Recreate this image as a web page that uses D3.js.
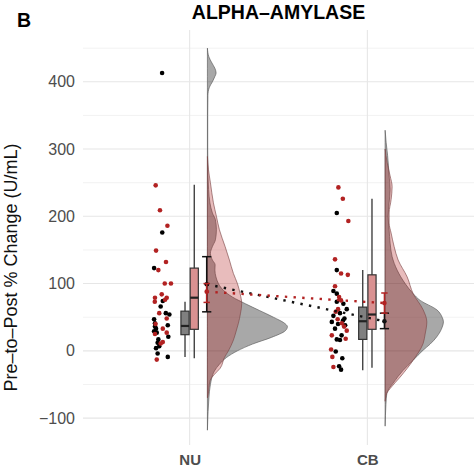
<!DOCTYPE html>
<html><head><meta charset="utf-8">
<script src="https://cdn.jsdelivr.net/npm/d3@7"></script>
<style>body{margin:0;background:#fff}svg{display:block}</style>
</head><body>
<script>
// ---------------- DATA ----------------
const categories = ["NU", "CB"];
const groups = ["black", "red"];
const yTicks = [-100, 0, 100, 200, 300, 400];
const yMinor = [-50, 50, 150, 250, 350, 450];

// raw points: value and horizontal jitter (category units)
const nuBlackVals = [413,176,123,74,66,56,54,47,38,41,36,33,29,27,21,17,12,7,4,-4,-9];
const nuBlackJit  = [-0.155,-0.154,-0.200,-0.151,-0.163,-0.134,-0.114,-0.200,-0.123,-0.195,-0.195,-0.189,-0.200,-0.185,-0.120,-0.176,-0.180,-0.171,-0.189,-0.180,-0.123];
const nuRedVals = [246,209,186,149,132,120,100,100,84,79,79,73,76,56,48,33,25,27,13,11,-13,40];
const nuRedJit  = [-0.191,-0.167,-0.125,-0.189,-0.133,-0.176,-0.140,-0.105,-0.157,-0.195,-0.129,-0.196,-0.138,-0.171,-0.129,-0.151,-0.195,-0.129,-0.151,-0.163,-0.185,-0.192];
const cbBlackVals = [205,120,89,85,73,70,62,56,52,48,43,38,40,33,23,17,16,-1,-11,-23,-28,45];
const cbBlackJit  = [-0.172,-0.172,-0.191,-0.172,-0.172,-0.135,-0.116,-0.154,-0.191,-0.129,-0.200,-0.125,-0.165,-0.182,-0.145,-0.172,-0.154,-0.178,-0.141,-0.159,-0.148,-0.137];
const cbRedVals = [243,226,193,136,115,113,96,80,75,58,47,41,30,23,18,2,-9,-24,62,36];
const cbRedJit  = [-0.163,-0.138,-0.107,-0.182,-0.148,-0.110,-0.182,-0.159,-0.148,-0.178,-0.167,-0.144,-0.116,-0.200,-0.122,-0.204,-0.197,-0.191,-0.165,-0.131];

// box statistics [low whisker, q1, median, q3, high whisker]
const nuBlackBox = [-9, 24, 37, 59, 73];
const nuRedBox   = [-11, 32, 79, 123, 247];
const cbBlackBox = [-29, 17, 44, 65, 120];
const cbRedBox   = [-25, 32, 54, 113, 226];

// mean and interval [low, mean, high]
const nuBlackMean = [58, 99, 140];
const nuRedMean   = [72, 88, 100];
const cbBlackMean = [33, 44, 56];
const cbRedMean   = [56, 71, 86];

// half-density profiles: value and relative density
const nuBlackDensV = [-118,-100,-90,-70,-50,-30,-20,-10,0,10,20,30,36,40,50,60,70,80,90,100,110,120,128,135,145,155,165,180,195,205,220,240,260,300,350,380,392,400,408,413,420,428,437,450];
const nuBlackDensD = [0,0.4,0.7,1.5,3,7,12,19,30,45,64,78,80,78,66,52,38,25,16,11,8.5,7.5,7.7,5,3,5,8,9,8,5,2.5,1.2,0.6,0.3,0.3,0.5,2,5,7.5,8.7,7.5,4.5,1.5,0];
const nuRedDensV = [-70,-63,-55,-44,-35,-26,-10,0,16,28,41,55,70,85,100,115,135,155,180,200,220,250,270,289];
const nuRedDensD = [0,1,1.5,2.7,7,12.7,17,21,26,28.5,31,33,34.3,32.7,30,26,22,17.7,12,9,6,3,1,0];
const cbBlackDensV = [-112,-80,-63,-48,-29,-14,1,10,21,35,43,50,61,75,85,100,120,140,160,180,200,220,240,260,290,310,328];
const cbBlackDensD = [0,0.8,1.7,8,18,28,38,45,51.7,57,58.3,57,51.7,35,28,20,12,7,5,4,3,4,5,4,2.5,1,0];
const cbRedDensV = [-75,-63,-56,-39,-14,11,25,43,61,85,110,135,155,175,190,205,225,244,260,280,300];
const cbRedDensD = [0,1.7,5,15,28,38,40,41.7,38,28,22,13,9,6,4,4,6,7,5,2,0];

// ---------------- LAYOUT ----------------
const W = 474, H = 474;
const svg = d3.select("body").append("svg").attr("width", W).attr("height", H)
  .style("font-family", "'Liberation Sans', Arial, Helvetica, sans-serif");

const x = d3.scaleLinear().domain([0.4, 2.6]).range([83, 474]);
const y = d3.scaleLinear().domain([-140, 477]).range([445, 30]);
const dens = d3.scaleLinear().domain([0, 100]).range([0, 100 / 177.7]); // density -> category units

const col = {black: "#000000", red: "#b22222"};
const catPos = c => categories.indexOf(c) + 1;

// grid
const g = svg.append("g");
g.selectAll(".minor").data(yMinor).join("line")
  .attr("x1", x(0.4)).attr("x2", x(2.6))
  .attr("y1", d => y(d)).attr("y2", d => y(d))
  .attr("stroke", "#f0f0f0").attr("stroke-width", 0.9);
g.selectAll(".major").data(yTicks).join("line")
  .attr("x1", x(0.4)).attr("x2", x(2.6))
  .attr("y1", d => y(d)).attr("y2", d => y(d))
  .attr("stroke", "#e6e6e6").attr("stroke-width", 1.1);
g.selectAll(".vx").data(categories).join("line")
  .attr("x1", d => x(catPos(d))).attr("x2", d => x(catPos(d)))
  .attr("y1", y(477)).attr("y2", y(-140))
  .attr("stroke", "#e6e6e6").attr("stroke-width", 1.1);

// y axis labels
const yAxis = d3.axisLeft(y).tickValues(yTicks).tickSize(0).tickPadding(8)
  .tickFormat(d => d < 0 ? "\u2212" + Math.abs(d) : d);
const ya = svg.append("g").attr("transform", `translate(${x(0.4)},0)`).call(yAxis);
ya.select(".domain").remove();
ya.selectAll("text").attr("fill", "#4d4d4d").style("font-size", "16px")
  .style("font-family", "'Liberation Sans', Arial, sans-serif");

// x axis labels
const xBand = d3.scalePoint().domain(categories).range([x(1), x(2)]);
const xa = svg.append("g").attr("transform", `translate(0,${y(-140)})`)
  .call(d3.axisBottom(xBand).tickSize(0).tickPadding(9));
xa.select(".domain").remove();
xa.selectAll("text").attr("fill", "#4d4d4d").style("font-size", "15px").style("font-weight", "bold")
  .style("font-family", "'Liberation Sans', Arial, sans-serif");

// densities
const series = [
  {cat: "NU", grp: "black", v: nuBlackDensV, d: nuBlackDensD},
  {cat: "CB", grp: "black", v: cbBlackDensV, d: cbBlackDensD},
  {cat: "NU", grp: "red", v: nuRedDensV, d: nuRedDensD},
  {cat: "CB", grp: "red", v: cbRedDensV, d: cbRedDensD},
];
const densOffset = 0.1;
series.forEach(s => {
  const pts = s.v.map((v, i) => [v, s.d[i]]);
  const base = catPos(s.cat) + densOffset;
  const area = d3.area().curve(d3.curveMonotoneY)
    .y(p => y(p[0])).x0(x(base)).x1(p => x(base + dens(p[1])));
  svg.append("path").attr("d", area(pts))
    .attr("fill", s.grp === "black" ? "#000" : "#b22222")
    .attr("fill-opacity", s.grp === "black" ? 0.34 : 0.3)
    .attr("stroke", s.grp === "black" ? "#555" : "#7a4545")
    .attr("stroke-opacity", 0.7).attr("stroke-width", 0.9);
});

// jittered points
const pointSets = [
  {cat: "NU", grp: "black", v: nuBlackVals, j: nuBlackJit},
  {cat: "NU", grp: "red", v: nuRedVals, j: nuRedJit},
  {cat: "CB", grp: "black", v: cbBlackVals, j: cbBlackJit},
  {cat: "CB", grp: "red", v: cbRedVals, j: cbRedJit},
];
pointSets.forEach(s => {
  svg.append("g").selectAll("circle").data(s.v.map((v, i) => [v, s.j[i]])).join("circle")
    .attr("cx", d => x(catPos(s.cat) + d[1])).attr("cy", d => y(d[0]))
    .attr("r", 2.3).attr("fill", col[s.grp]);
});

// boxplots
const boxes = [
  {cat: "NU", grp: "black", b: nuBlackBox},
  {cat: "NU", grp: "red", b: nuRedBox},
  {cat: "CB", grp: "black", b: cbBlackBox},
  {cat: "CB", grp: "red", b: cbRedBox},
];
const dodge = 0.026, bw = 0.046;
boxes.forEach(s => {
  const cx = catPos(s.cat) + (s.grp === "black" ? -dodge : dodge);
  const bg = svg.append("g");
  bg.append("line").attr("x1", x(cx)).attr("x2", x(cx))
    .attr("y1", y(s.b[0])).attr("y2", y(s.b[4]))
    .attr("stroke", "#333").attr("stroke-width", 1.3);
  bg.append("rect").attr("x", x(cx - bw / 2)).attr("width", x(cx + bw / 2) - x(cx - bw / 2))
    .attr("y", y(s.b[3])).attr("height", y(s.b[1]) - y(s.b[3]))
    .attr("fill", s.grp === "black" ? "#808080" : "#d99191")
    .attr("stroke", "#333").attr("stroke-width", 1.2);
  bg.append("line").attr("x1", x(cx - bw / 2)).attr("x2", x(cx + bw / 2))
    .attr("y1", y(s.b[2])).attr("y2", y(s.b[2]))
    .attr("stroke", "#222").attr("stroke-width", 2.2);
});

// dotted connecting lines between means
const errOff = 0.096;
const means = {black: [nuBlackMean, cbBlackMean], red: [nuRedMean, cbRedMean]};
groups.forEach(gp => {
  const line = d3.line().x(d => x(d[0])).y(d => y(d[1]));
  svg.append("path")
    .attr("d", line(categories.map((c, i) => [catPos(c) + errOff, means[gp][i][1]])))
    .attr("fill", "none").attr("stroke", gp === "black" ? "#111" : "#b22222")
    .attr("stroke-width", 2.4).attr("stroke-dasharray", "2.4,6.3");
});

// error bars and means
const errs = [
  {cat: "NU", grp: "black", m: nuBlackMean, cap: 0.026},
  {cat: "CB", grp: "black", m: cbBlackMean, cap: 0.026},
  {cat: "NU", grp: "red", m: nuRedMean, cap: 0.018},
  {cat: "CB", grp: "red", m: cbRedMean, cap: 0.018},
];
errs.forEach(s => {
  const cx = catPos(s.cat) + errOff;
  const c = s.grp === "black" ? "#111" : "#b22222";
  const eg = svg.append("g").attr("stroke", c).attr("stroke-width", 1.5);
  eg.append("line").attr("x1", x(cx)).attr("x2", x(cx)).attr("y1", y(s.m[0])).attr("y2", y(s.m[2]));
  [s.m[0], s.m[2]].forEach(v => eg.append("line")
    .attr("x1", x(cx - s.cap)).attr("x2", x(cx + s.cap)).attr("y1", y(v)).attr("y2", y(v)));
  svg.append("circle").attr("cx", x(cx)).attr("cy", y(s.m[1])).attr("r", 2.3).attr("fill", c);
});

// titles
svg.append("text").attr("x", (x(0.4) + x(2.6)) / 2).attr("y", 18.5)
  .attr("text-anchor", "middle").style("font-size", "19.5px").style("font-weight", "bold")
  .attr("fill", "#000").text("ALPHA\u2013AMYLASE");
svg.append("text").attr("x", 17).attr("y", 27)
  .style("font-size", "19.5px").style("font-weight", "bold").attr("fill", "#000").text("B");
svg.append("text").attr("transform", `translate(17,${(y(477) + y(-140)) / 2 + 30}) rotate(-90)`)
  .attr("text-anchor", "middle").style("font-size", "18px").attr("fill", "#111")
  .text("Pre\u2013to\u2013Post % Change (U/mL)");
</script>
</body></html>
